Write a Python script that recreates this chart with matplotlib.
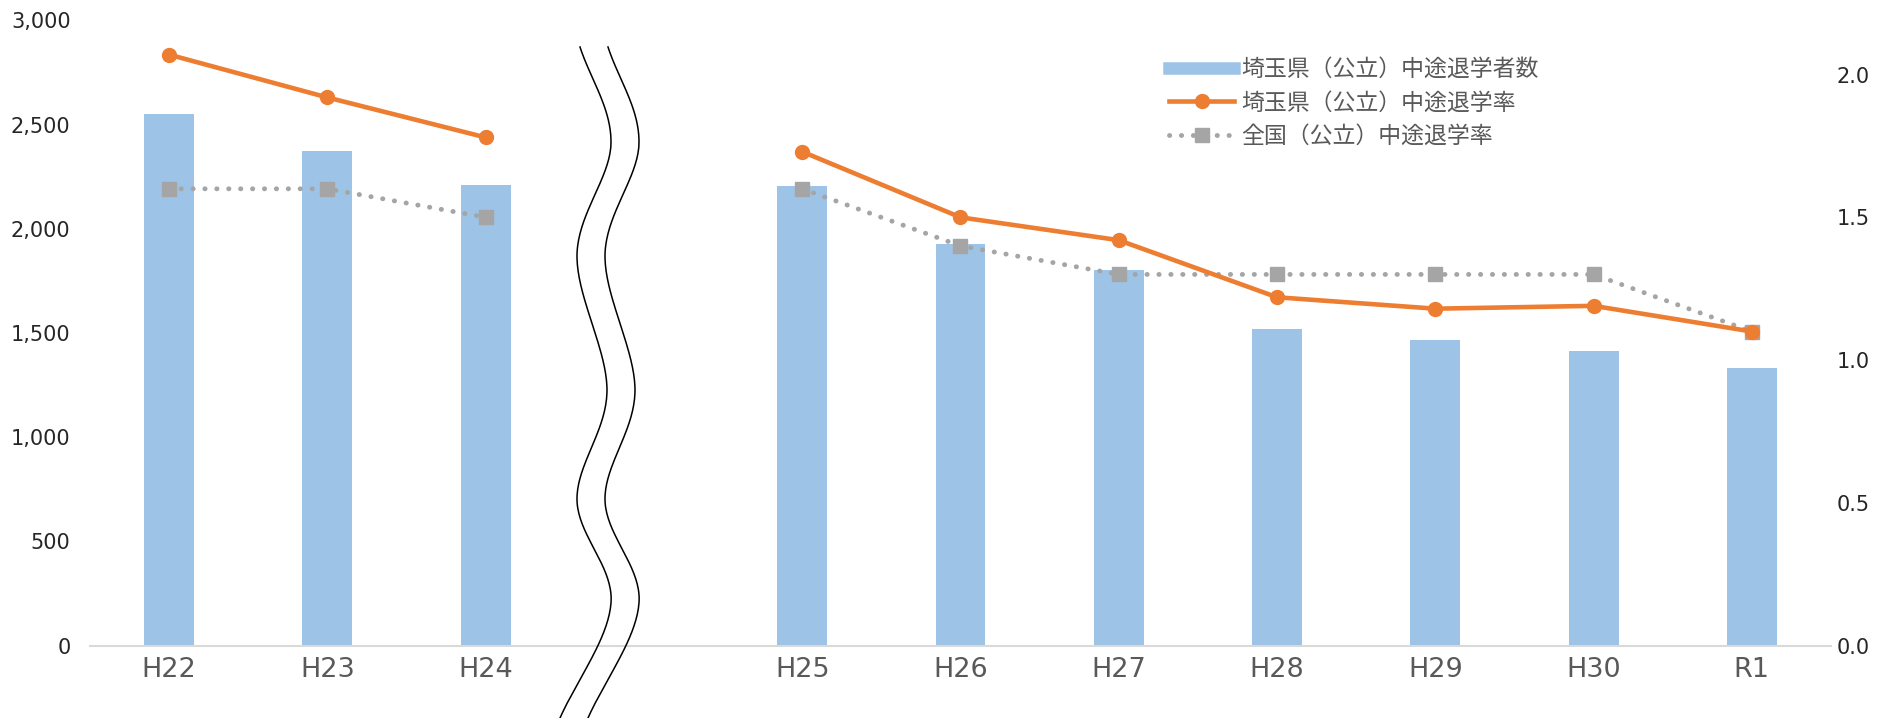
import numpy as np
import matplotlib.pyplot as plt
from matplotlib.lines import Line2D

plt.rcParams['font.family'] = ['DejaVu Sans']

# データ（空欄は波線による省略部分）
labels = ['H22', 'H23', 'H24', '', 'H25', 'H26', 'H27', 'H28', 'H29', 'H30', 'R1']
dropouts = [2550, 2372, 2212, np.nan, 2205, 1929, 1800, 1520, 1468, 1411, 1330]
saitama_rate = [2.07, 1.92, 1.78, np.nan, 1.73, 1.50, 1.42, 1.22, 1.18, 1.19, 1.10]
national_rate = [1.6, 1.6, 1.5, np.nan, 1.6, 1.4, 1.3, 1.3, 1.3, 1.3, 1.1]
left_ticks = [0, 500, 1000, 1500, 2000, 2500, 3000]
right_ticks = [0.0, 0.5, 1.0, 1.5, 2.0]

W, H = 1881, 718
fig = plt.figure(figsize=(W / 100, H / 100), dpi=100)
ax = fig.add_axes([90 / W, 1 - 645.5 / H, (1831 - 90) / W, (645.5 - 20.4) / H])
ax2 = ax.twinx()

x = np.arange(len(labels))
ax.bar(x, dropouts, width=0.315, color='#9DC3E6', zorder=2)
ax.set_ylim(0, 3000)
ax.set_xlim(-0.5, len(labels) - 0.5)
ax.set_yticks(left_ticks)
ax.set_yticklabels([f'{v:,}' for v in left_ticks])
ax.set_xticks(x)
ax.set_xticklabels(labels)

ax2.plot(x, saitama_rate, color='#ED7D31', lw=3.3, marker='o', ms=10,
         solid_capstyle='round', zorder=4)
ax2.plot(x, national_rate, color='#A5A5A5', lw=3.5, ls=(0, (0.05, 2.4)),
         dash_capstyle='round', marker='s', ms=10, zorder=3)
ax2.set_ylim(0, 2.19)
ax2.set_yticks(right_ticks)
ax2.set_yticklabels([f'{v:.1f}' for v in right_ticks])

for a in (ax, ax2):
    for s in a.spines.values():
        s.set_visible(False)
    a.tick_params(length=0, labelsize=15, colors='#262626')
ax.spines['bottom'].set_visible(True)
ax.spines['bottom'].set_color('#D9D9D9')
ax.spines['bottom'].set_linewidth(1.5)
ax.tick_params(axis='x', colors='#595959', labelsize=19.5, pad=8)
ax.tick_params(axis='y', pad=14)
ax2.tick_params(axis='y', pad=4)

# 凡例
handles = [
    Line2D([], [], color='#9DC3E6', lw=9),
    Line2D([], [], color='#ED7D31', lw=3.3, marker='o', ms=10),
    Line2D([], [], color='#A5A5A5', lw=3.5, ls=(0, (0.05, 2.4)),
           dash_capstyle='round', marker='s', ms=10),
]
names = ['埼玉県（公立）中途退学者数', '埼玉県（公立）中途退学率', '全国（公立）中途退学率']
leg = fig.legend(handles, names, loc='upper left',
                 bbox_to_anchor=(1169 / W, 1 - 58 / H), bbox_transform=fig.transFigure,
                 frameon=False, borderpad=0, borderaxespad=0,
                 prop={'family': ['Noto Sans CJK JP', 'DejaVu Sans'], 'size': 16.5},
                 handlelength=2.85, handletextpad=0.3,
                 labelspacing=0.45, labelcolor='#595959')

# 省略を示す波線（図の画素座標）
ctrl = np.array([[580, 47], [611, 143], [577, 255], [607, 390], [577, 500],
                 [611, 603], [560, 718]], dtype=float)


def catmull(p, n=40):
    p = np.vstack([2 * p[0] - p[1], p, 2 * p[-1] - p[-2]])
    out = []
    t = np.linspace(0, 1, n)[:, None]
    for i in range(1, len(p) - 2):
        p0, p1, p2, p3 = p[i - 1], p[i], p[i + 1], p[i + 2]
        out.append(0.5 * ((2 * p1) + (-p0 + p2) * t
                          + (2 * p0 - 5 * p1 + 4 * p2 - p3) * t ** 2
                          + (-p0 + 3 * p1 - 3 * p2 + p3) * t ** 3))
    return np.vstack(out)


curve = catmull(ctrl)
for dx in (0, 28):
    fig.add_artist(Line2D((curve[:, 0] + dx) / W, 1 - curve[:, 1] / H,
                          color='black', lw=1.1, transform=fig.transFigure))

fig.savefig('out.png', dpi=100)
